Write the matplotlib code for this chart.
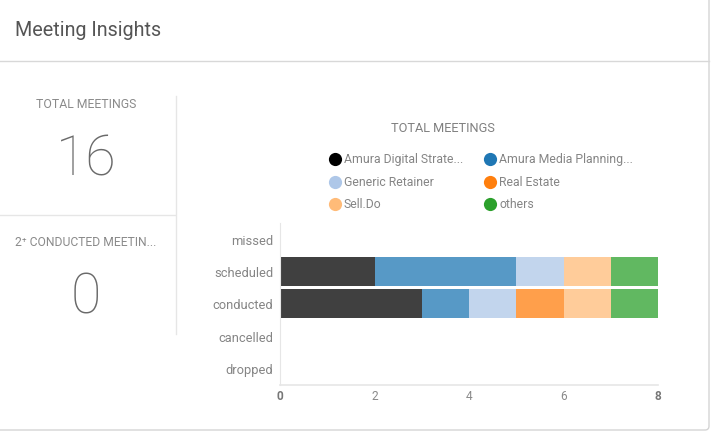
import matplotlib
matplotlib.use("Agg")
import matplotlib.pyplot as plt
from matplotlib.patches import FancyBboxPatch
import numpy as np

plt.rcParams['font.family'] = ['Roboto', 'DejaVu Sans']

categories = ["missed", "scheduled", "conducted", "cancelled", "dropped"]
series_names = ["Amura Digital Strate...", "Amura Media Planning...", "Generic Retainer",
                "Real Estate", "Sell.Do", "others"]
series_colors = ["#000000", "#1f77b4", "#aec7e8", "#ff7f0e", "#ffbb78", "#2ca02c"]
values = {
    "Amura Digital Strate...": [0, 2, 3, 0, 0],
    "Amura Media Planning...": [0, 3, 1, 0, 0],
    "Generic Retainer":        [0, 1, 1, 0, 0],
    "Real Estate":             [0, 0, 1, 0, 0],
    "Sell.Do":                 [0, 1, 1, 0, 0],
    "others":                  [0, 1, 1, 0, 0],
}
xticks = [0, 2, 4, 6, 8]
total_meetings = 16
conducted_2plus = 0

W, H = 712, 435
fig = plt.figure(figsize=(W / 100, H / 100), dpi=100)
fig.patch.set_facecolor("white")

def fx(px): return px / W
def fy(py): return 1 - py / H

# card border (right & bottom, rounded corner)
bg = fig.add_axes([0, 0, 1, 1])
bg.set_xlim(0, W); bg.set_ylim(H, 0); bg.axis("off")
card = FancyBboxPatch((-20, -20), 729, 451, boxstyle="round,pad=0,rounding_size=4",
                      fc="none", ec="#d4d4d4", lw=1.0)
bg.add_patch(card)
bg.plot([0, 709], [62, 62], color="#d8d8d8", lw=1.0)
bg.plot([175.5, 175.5], [97, 335], color="#e6e6e6", lw=1.0)
bg.plot([0, 175], [216, 216], color="#e6e6e6", lw=1.0)

bg.text(15, 30, "Meeting Insights", fontsize=14.2, color="#555555", va="center", ha="left")
bg.text(86, 105, "TOTAL MEETINGS", fontsize=8.8, color="#8a8a8a", va="center", ha="center")
bg.text(86, 160, str(total_meetings), fontsize=40, color="#6a6a6a", va="center", ha="center",
        fontweight=250)
bg.text(86, 243, "2⁺ CONDUCTED MEETIN...", fontsize=8.7, color="#8a8a8a", va="center", ha="center")
bg.text(86, 298, str(conducted_2plus), fontsize=40, color="#6a6a6a", va="center", ha="center",
        fontweight=250)

# chart title & legend
bg.text(443, 128, "TOTAL MEETINGS", fontsize=9.2, color="#808080", va="center", ha="center")
col_x = [335, 490]
row_y = [160, 183, 205]
for i, (name, c) in enumerate(zip(series_names, series_colors)):
    x = col_x[i % 2]; y = row_y[i // 2]
    bg.plot([x], [y], marker="o", ms=9.5, color=c, mec="none")
    bg.text(x + 9, y, name, fontsize=8.8, color="#858585", va="center", ha="left")

# bar chart
ax = fig.add_axes([fx(280), fy(385.5), fx(658) - fx(280), fy(223.5) - fy(385.5)])
y = np.arange(len(categories))
left = np.zeros(len(categories))
for name, c in zip(series_names, series_colors):
    v = np.array(values[name], dtype=float)
    ax.barh(y, v, left=left, height=0.9, color=c, alpha=0.75, linewidth=0)
    left += v
ax.set_ylim(len(categories) - 0.5, -0.5)
ax.set_xlim(0, 8)
ax.set_yticks(y)
ax.set_yticklabels(categories, fontsize=9.3, color="#858585")
ax.set_xticks(xticks)
labels = ax.set_xticklabels([str(t) for t in xticks], fontsize=8.6, color="#8a8a8a")
labels[0].set_fontweight("bold"); labels[-1].set_fontweight("bold")
labels[0].set_color("#777777"); labels[-1].set_color("#777777")
ax.tick_params(axis="x", length=0, pad=3)
ax.tick_params(axis="y", length=0, pad=5)
for s in ["top", "right"]:
    ax.spines[s].set_visible(False)
ax.spines["left"].set_color("#e6e6e6")
ax.spines["bottom"].set_color("#e6e6e6")
ax.spines["bottom"].set_linewidth(1.2)
ax.set_facecolor("none")

fig.savefig("out.png", dpi=100, facecolor="white")
